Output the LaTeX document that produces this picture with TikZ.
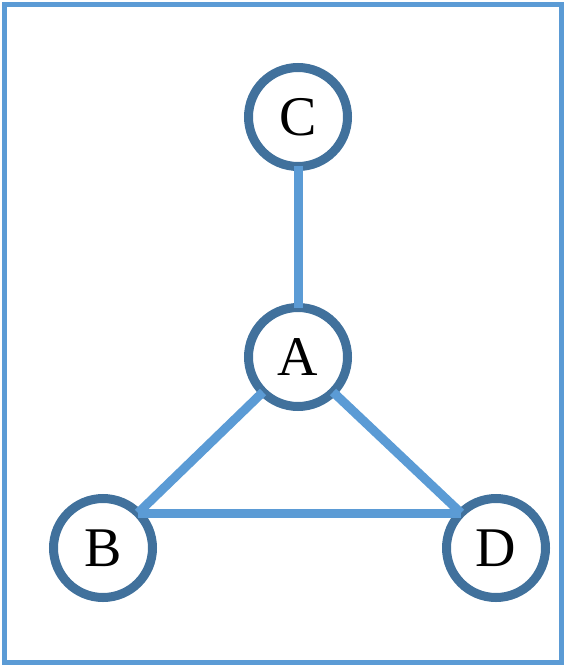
\documentclass[tikz,border=0pt]{standalone}
\usepackage{fontspec}
\setmainfont{Liberation Serif}
\usepackage{xcolor}
\definecolor{edgeblue}{RGB}{91, 155, 213}
\definecolor{ringblue}{RGB}{65, 113, 156}
\usetikzlibrary{positioning}

\begin{document}
\begin{tikzpicture}[x=1pt, y=-1pt,
    vertex/.style={circle, draw=ringblue, line width=9pt, fill=white,
        minimum size=99pt, inner sep=0pt, outer sep=0pt,
        font=\fontsize{56}{60}\selectfont},
    link/.style={edgeblue, line width=9pt}]
    \useasboundingbox (0,0) rectangle (567,668);
    \draw[edgeblue, line width=5pt] (4.5,4.5) rectangle (561.5,662.5);

    \node[vertex] (C) at (298,117) {C};
    \node[vertex] (A) at (298,357) {A};
    \node[vertex] (B) at (103,548) {B};
    \node[vertex] (D) at (496,548) {D};

    \draw[link] (C.south) -- (A.north);
    \draw[link] (A.-135) -- (B.45);
    \draw[link] (A.-45) -- (D.135);
    \draw[link] (B.45) -- (D.135);
\end{tikzpicture}
\end{document}
